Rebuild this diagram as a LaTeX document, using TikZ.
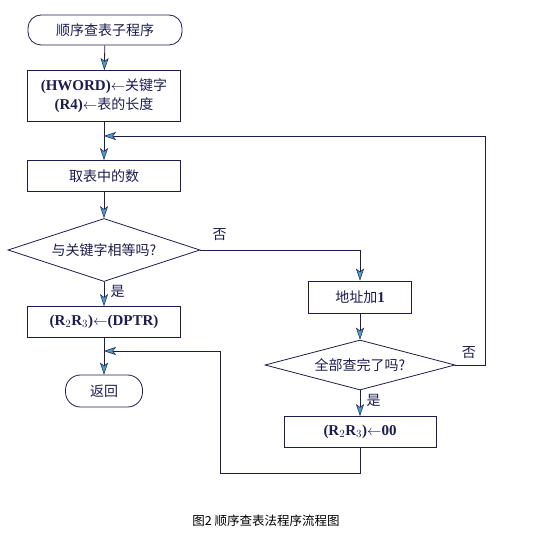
\documentclass[tikz,border=0pt]{standalone}
\usepackage{fontspec}
\setmainfont{Liberation Serif}
\newfontfamily\cjk{Noto Sans CJK SC}
\usetikzlibrary{shapes.geometric,arrows.meta}
\definecolor{linecol}{HTML}{1C1C4E}
\definecolor{tipcol}{HTML}{4C9EC4}
\newcommand\lat[1]{{\rmfamily\bfseries\fontsize{15}{17}\selectfont #1}}
\begin{document}
\begin{tikzpicture}[x=1pt,y=-1pt,
	every node/.style={text=linecol,font=\cjk\fontsize{14}{16}\selectfont},
	flow/.style={draw=linecol,line width=0.8pt},
	arr/.style={flow,-{Stealth[length=12pt,width=8pt,inset=3pt,fill=tipcol,line width=0.5pt]}},
	procbox/.style={draw=linecol,line width=0.8pt,rectangle,minimum width=153pt,minimum height=31pt,inner sep=2pt},
	terminal/.style={draw=linecol,line width=0.8pt,rectangle,rounded corners=13pt,minimum height=30pt,inner sep=2pt},
	decision/.style={draw=linecol,line width=0.8pt,diamond,inner sep=0pt},
	yesno/.style={font=\cjk\fontsize{14}{16}\selectfont}
	]
	\useasboundingbox (0,0) rectangle (537,534);
	% main column
	\node [terminal,minimum width=154pt] (start) at (105,30) {顺序查表子程序};
	\node [procbox,minimum height=51pt,align=center] (init) at (104,96)
		{\lat{(HWORD)$\leftarrow$}关键字\\[3pt]
		 \lat{(R4)$\leftarrow$}表的长度};
	\node [procbox] (fetch) at (104,176) {取表中的数};
	\node [decision,aspect=3.05,minimum width=192pt,minimum height=63pt] (cmp) at (104,250) {与关键字相等吗?};
	\node [procbox] (found) at (104,322) {\lat{(R$_2$R$_3$)$\leftarrow$(DPTR)}};
	\node [terminal,minimum width=77pt,rounded corners=15pt,minimum height=32pt] (ret) at (104,391) {返回};
	% right column
	\node [procbox,minimum width=103pt,minimum height=32pt] (incr) at (360,297) {地址加\lat{1}};
	\node [decision,aspect=3.8,minimum width=190pt,minimum height=50pt] (alldone) at (360,365) {全部查完了吗?};
	\node [procbox,minimum width=152pt] (notfound) at (360,432) {\lat{(R$_2$R$_3$)$\leftarrow$00}};
	% merge points
	\coordinate (loopin) at (104,136);
	\coordinate (retin) at (104,351);
	% connectors
	\draw [arr] (start) -- (init);
	\draw [arr] (init) -- (fetch);
	\draw [arr] (fetch) -- (cmp);
	\draw [arr] (cmp) -- node [yesno,right,pos=0.4,xshift=3pt] {是} (found);
	\draw [arr] (found) -- (ret);
	\draw [arr] (cmp.east) -| node [yesno,pos=0.06,above,yshift=6pt] {否} (incr.north);
	\draw [arr] (incr) -- (alldone);
	\draw [arr] (alldone) -- node [yesno,right,pos=0.4,xshift=3pt] {是} (notfound);
	\draw [arr] (alldone.east) -- node [yesno,above,pos=0.45,yshift=3pt] {否} ++(30,0) |- (loopin);
	\draw [arr] (notfound.south) -- ++(0,25) -| (220,351) -- (retin);
	% caption
	\node [font=\cjk\fontsize{12.5}{14}\selectfont,text=black] (caption) at (266,521) {图2 顺序查表法程序流程图};
\end{tikzpicture}
\end{document}
